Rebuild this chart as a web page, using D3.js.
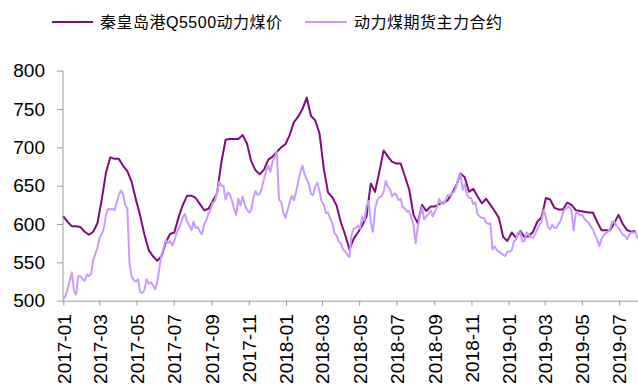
<!DOCTYPE html>
<html>
<head>
<meta charset="utf-8">
<script src="https://cdn.jsdelivr.net/npm/d3@7"></script>
<style>
  html, body { margin: 0; padding: 0; background: #fff; }
  svg { display: block; font-family: "Liberation Sans", Arial, "Noto Sans CJK SC", sans-serif; }
</style>
</head>
<body>
<svg id="chart" width="638" height="387"></svg>
<script>
// Series names
const seriesNames = ["秦皇岛港Q5500动力煤价", "动力煤期货主力合约"];

// Qinhuangdao Q5500 spot price, one reading per week from 2017-01-01
const spotPrice = [
  610, 603, 597, 597, 596, 590, 586, 590, 601, 632,
  667, 687, 685, 685, 676, 669, 655, 632, 611, 586,
  566, 558, 552, 558, 576, 587, 589, 609, 625, 637,
  637, 634, 626, 618, 620, 630, 640, 680, 710, 711,
  711, 711, 716, 705, 682, 670, 665, 671, 684, 688,
  694, 700, 704, 716, 733, 740, 750, 765, 741, 735,
  718, 672, 641, 635, 624, 602, 586, 567, 581, 589,
  598, 610, 653, 642, 668, 696, 688, 681, 679, 679,
  662, 645, 612, 601, 625, 617, 623, 623, 626, 628,
  631, 640, 650, 666, 661, 642, 646, 636, 627, 633,
  625, 617, 608, 583, 578, 589, 582, 591, 583, 584,
  590, 603, 609, 634, 632, 621, 619, 619, 628, 625,
  618, 617, 616, 615, 615, 603, 592, 592, 592, 601,
  612, 600, 592, 590, 591
];

// Thermal coal futures main contract, two readings per week from 2017-01-01
const futuresPrice = [
  502, 506, 515, 526, 537, 513, 508, 532, 532, 528,
  526, 534, 532, 535, 553, 561, 569, 582, 587, 595,
  612, 620, 619, 620, 618, 628, 638, 644, 639, 625,
  620, 548, 532, 527, 525, 528, 511, 510, 514, 528,
  522, 524, 520, 515, 524, 543, 560, 569, 579, 575,
  578, 572, 578, 588, 594, 600, 609, 613, 603, 598,
  592, 603, 595, 596, 590, 587, 600,
  605, 614, 619, 628, 630, 641, 655, 650, 650, 632,
  641, 639, 630, 620, 612, 633, 624, 636, 625, 619,
  615, 618, 634, 643, 638, 639, 647, 659, 669, 676,
  668, 682, 687, 694, 632, 629, 615, 608, 618, 628,
  637, 631, 642, 655, 668, 676, 665, 658, 652, 639,
  638, 649, 654, 642, 629, 625, 614, 615, 607, 601,
  588, 585, 577, 575, 567, 564,
  560, 557, 586, 594, 595, 598, 594, 610, 605, 623,
  630, 602, 590, 620, 631, 635, 636, 642, 656, 649,
  645, 636, 640, 638, 631, 633, 622, 620, 616, 617,
  608, 599, 575, 596, 611, 622, 606, 610, 613, 618,
  610, 616, 622, 633, 627, 626, 631, 638, 637, 640,
  642, 648, 660, 665, 645, 652, 639, 634, 634, 626,
  628, 613, 610, 608, 608, 602, 600, 601,
  567, 571, 566, 564, 562, 560, 558, 564, 564, 566,
  577, 580, 589, 590, 577, 578, 589, 586, 583, 582,
  587, 594, 599, 604, 618, 609, 596, 593, 599, 595,
  595, 600, 605, 615, 620, 621, 623, 618, 592, 614,
  615, 611, 612, 607, 604, 602, 597, 593, 586, 580,
  571, 580, 585, 588, 590, 593, 603, 603, 598, 595,
  591, 586, 585, 580, 586, 589, 589, 589, 581
];

// Axis labels
const xTickLabels = ["2017-01", "2017-03", "2017-05", "2017-07", "2017-09", "2017-11",
  "2018-01", "2018-03", "2018-05", "2018-07", "2018-09", "2018-11",
  "2019-01", "2019-03", "2019-05", "2019-07"];
const yTickValues = [500, 550, 600, 650, 700, 750, 800];

const startDate = new Date(Date.UTC(2017, 0, 1));
const endDate = new Date(Date.UTC(2019, 6, 31));
const spotDates = spotPrice.map((_, i) => d3.utcDay.offset(startDate, 7 * i));
const futuresDates = futuresPrice.map((_, j) => d3.utcHour.offset(startDate, 84 * j));

const colors = ["#7e0c7e", "#c89bff"];
const axisColor = "#9c9c9c";

const svg = d3.select("#chart");

const x = d3.scaleUtc().domain([startDate, endDate]).range([63.3, 637.4]);
const y = d3.scaleLinear().domain([500, 800]).range([300.7, 70.7]);

// Y axis
const yAxis = svg.append("g")
  .attr("transform", "translate(63,0)")
  .call(d3.axisLeft(y).tickValues(yTickValues).tickSize(6).tickSizeOuter(0).tickPadding(12));
yAxis.select(".domain").attr("stroke", axisColor).attr("d", `M0,${y(800)}V${y(500)}`);
yAxis.selectAll(".tick line").attr("stroke", axisColor);
yAxis.selectAll(".tick text")
  .attr("fill", "#000")
  .style("font-size", "19px")
  .style("font-family", "'Liberation Sans', Arial, sans-serif");

// X axis
const parseMonth = d3.utcParse("%Y-%m");
const xAxis = svg.append("g")
  .attr("transform", `translate(0,${y(500)})`)
  .call(d3.axisBottom(x)
    .tickValues(xTickLabels.map(parseMonth))
    .tickFormat(d3.utcFormat("%Y-%m"))
    .tickSize(5).tickSizeOuter(0));
xAxis.select(".domain").attr("stroke", axisColor).attr("d", `M63,0.5H638`);
xAxis.selectAll(".tick line").attr("stroke", axisColor);
xAxis.selectAll(".tick text")
  .attr("fill", "#000")
  .attr("transform", "rotate(-90)")
  .attr("text-anchor", "end")
  .attr("x", -13.5)
  .attr("y", 0)
  .attr("dy", "0.36em")
  .style("font-size", "19px")
  .style("font-family", "'Liberation Sans', Arial, sans-serif");

// Lines
const line = d3.line().x(d => x(d[0])).y(d => y(d[1]));
const spotSeries = spotDates.map((d, i) => [d, spotPrice[i]]);
const futuresSeries = futuresDates.map((d, j) => [d, futuresPrice[j]]);

svg.append("path")
  .datum(spotSeries)
  .attr("fill", "none")
  .attr("stroke", colors[0])
  .attr("stroke-width", 2)
  .attr("stroke-linejoin", "round")
  .attr("d", line);

svg.append("path")
  .datum(futuresSeries)
  .attr("fill", "none")
  .attr("stroke", colors[1])
  .attr("stroke-width", 2)
  .attr("stroke-linejoin", "round")
  .attr("d", line);

// Legend
const legendItems = [
  { x1: 52, x2: 93, tx: 100 },
  { x1: 305, x2: 347, tx: 354 }
];
const legend = svg.append("g");
legendItems.forEach((it, k) => {
  legend.append("line")
    .attr("x1", it.x1).attr("x2", it.x2)
    .attr("y1", 22).attr("y2", 22)
    .attr("stroke", colors[k]).attr("stroke-width", 2);
  legend.append("text")
    .attr("x", it.tx).attr("y", 22)
    .attr("dy", "0.36em")
    .attr("fill", "#000")
    .style("font-size", "16px")
    .style("letter-spacing", "0.5px")
    .style("font-family", "'Liberation Sans', Arial, 'Noto Sans CJK SC', sans-serif")
    .text(seriesNames[k]);
});
</script>
</body>
</html>
